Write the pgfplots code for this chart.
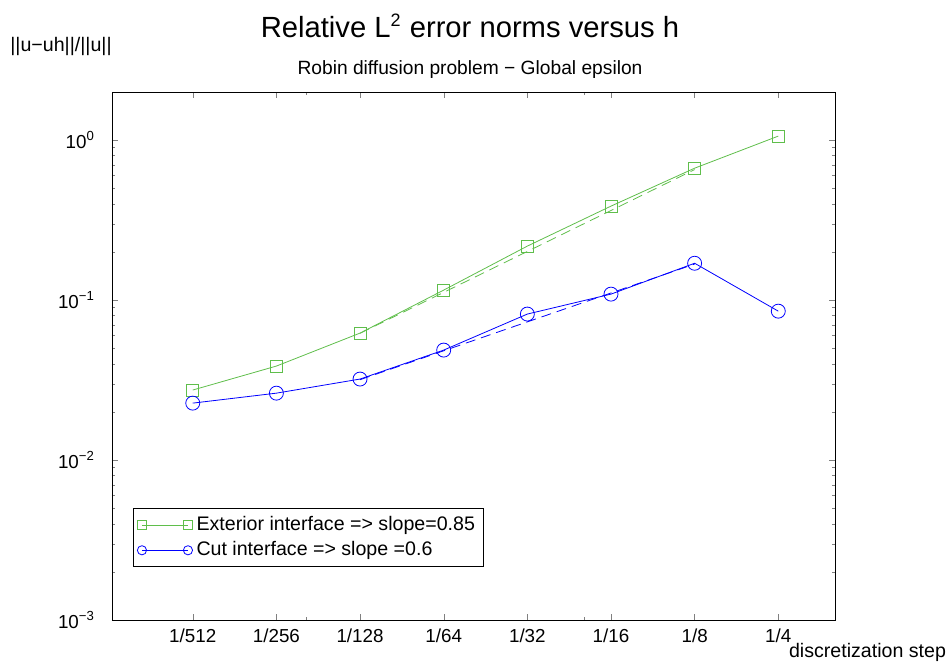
\documentclass[border=0pt]{standalone}
\usepackage{fontspec}
\setmainfont{Liberation Sans}
\usepackage{pgfplots}
\pgfplotsset{compat=1.18}
\definecolor{extgreen}{RGB}{95,190,75}
\definecolor{cutblue}{RGB}{0,0,255}

\begin{document}
\begin{tikzpicture}
  \useasboundingbox (0,0) rectangle (473.5pt,-333pt);
  \node at (235pt,-13pt) {\fontsize{14.6}{17}\selectfont Relative L\textsuperscript{\fontsize{9}{9}\selectfont 2} error norms versus h};
  \node at (235pt,-35pt) {\fontsize{9.6}{11}\selectfont Robin diffusion problem − Global epsilon};
  \node at (30.5pt,-23pt) {\fontsize{9.8}{11}\selectfont ||u−uh||/||u||};
  \node[anchor=west] at (391pt,-326pt) {\fontsize{9.8}{11}\selectfont discretization step};
  \begin{axis}[
      at={(56pt,-310pt)}, anchor=south west,
      scale only axis, width=361.5pt, height=264pt,
      xmode=log, ymode=log,
      xmin=0.001, xmax=0.4, ymin=0.001, ymax=2,
      xtick={0.001953125,0.00390625,0.0078125,0.015625,0.03125,0.0625,0.125,0.25},
      xticklabels={1/512,1/256,1/128,1/64,1/32,1/16,1/8,1/4},
      minor xtick={0.005,0.05},
      ytick={0.001,0.01,0.1,1},
      yticklabels={10\textsuperscript{−3},10\textsuperscript{−2},10\textsuperscript{−1},10\textsuperscript{0}},
      tick align=inside,
      major tick length=3pt, minor tick length=1.5pt,
      tick label style={font=\fontsize{9.4}{10}\selectfont},
      yticklabel style={xshift=-5pt},
      xticklabel style={yshift=-1pt},
      axis line style={black},
      legend style={at={(0.029,0.212)}, anchor=north west, draw=black,
        fill=white, font=\fontsize{9.8}{12}\selectfont, inner xsep=2pt, inner ysep=2pt,
        row sep=0pt},
      legend cell align=left,
      legend image code/.code={\draw[mark repeat=1,mark size=2.3pt,#1] plot coordinates {(0pt,0pt) (23pt,0pt)};},
    ]
    \addplot[extgreen, thin, mark=square, mark size=3pt] coordinates {
      (0.001953125,0.0274) (0.00390625,0.0387) (0.0078125,0.0622) (0.015625,0.1155)
      (0.03125,0.2176) (0.0625,0.387) (0.125,0.668) (0.25,1.06)};
    \addlegendentry{Exterior interface => slope=0.85}
    \addplot[cutblue, thin, mark=o, mark size=3.5pt] coordinates {
      (0.001953125,0.0227) (0.00390625,0.0262) (0.0078125,0.0321) (0.015625,0.0487)
      (0.03125,0.0818) (0.0625,0.109) (0.125,0.170) (0.25,0.0853)};
    \addlegendentry{Cut interface => slope =0.6}
    \addplot[extgreen, thin, dash pattern=on 5pt off 3pt, forget plot] coordinates {(0.0078125,0.0620) (0.125,0.655)};
    \addplot[cutblue, thin, dash pattern=on 5pt off 3pt, forget plot] coordinates {(0.0078125,0.0318) (0.125,0.168)};
  \end{axis}
\end{tikzpicture}
\end{document}
